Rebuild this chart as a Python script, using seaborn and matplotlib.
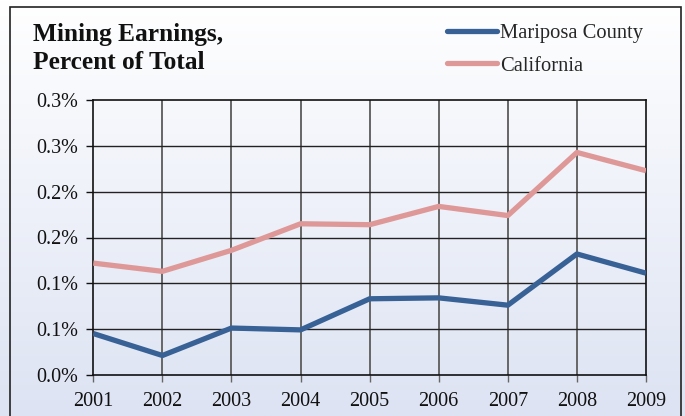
import numpy as np
import pandas as pd
import matplotlib
matplotlib.use("Agg")
import matplotlib.pyplot as plt
import seaborn as sns
from matplotlib.patches import Rectangle

years = [2001, 2002, 2003, 2004, 2005, 2006, 2007, 2008, 2009]
mariposa = [0.045, 0.021, 0.051, 0.049, 0.083, 0.084, 0.076, 0.132, 0.111]
california = [0.122, 0.113, 0.136, 0.165, 0.164, 0.184, 0.174, 0.243, 0.223]
series_names = ["Mariposa County", "California"]
series_colors = ["#386195", "#de9897"]
y_ticks = [0.0, 0.05, 0.10, 0.15, 0.20, 0.25, 0.30]
y_tick_labels = ["0.0%", "0.1%", "0.1%", "0.2%", "0.2%", "0.3%", "0.3%"]
title = "Mining Earnings,\nPercent of Total"

df = pd.DataFrame({
    "Year": years * 2,
    "Value": mariposa + california,
    "Series": [series_names[0]] * len(years) + [series_names[1]] * len(years),
})

sns.set_style("white")
plt.rcParams["font.family"] = ["Liberation Serif", "DejaVu Serif"]

W, H = 685, 416
fig = plt.figure(figsize=(W / 100, H / 100), dpi=100)

# gradient background
bg = fig.add_axes([0, 0, 1, 1], zorder=-10)
top_c = np.array([255, 255, 255]) / 255
bot_c = np.array([221, 227, 243]) / 255
t = np.linspace(0, 1, 256)[:, None]
grad = top_c[None, :] * (1 - t) + bot_c[None, :] * t
bg.imshow(grad[:, None, :].repeat(2, axis=1), aspect="auto", extent=[0, 1, 0, 1],
          transform=fig.transFigure)
bg.set_axis_off()
fig.patches.append(Rectangle((10 / W, -0.05), (681 - 10) / W, 1 - 7 / H + 0.05,
                             transform=fig.transFigure, fill=False,
                             edgecolor="#222222", linewidth=1.2, zorder=5))

ax = fig.add_axes([93.3 / W, 1 - 374.7 / H, (646 - 93.3) / W, (374.7 - 100.3) / H])
ax.set_facecolor("none")

sns.lineplot(data=df, x="Year", y="Value", hue="Series", palette=series_colors,
             hue_order=series_names, linewidth=3.8, ax=ax, legend=True,
             solid_capstyle="butt", zorder=3)

ax.set_xlim(2001, 2009)
ax.set_ylim(0, 0.30)
ax.set_xticks(years)
ax.set_xticklabels([str(y) for y in years])
ax.set_yticks(y_ticks)
ax.set_yticklabels(y_tick_labels)
ax.set_xlabel("")
ax.set_ylabel("")

ax.grid(False)
for x in years[1:-1]:
    ax.axvline(x, color="#666666", linewidth=1.4, zorder=1)
for y in y_ticks[1:-1]:
    ax.axhline(y, color="#222222", linewidth=1.0, zorder=1)

for s in ax.spines.values():
    s.set_color("#111111")
    s.set_linewidth(1.2)

ax.tick_params(axis="y", which="major", left=True, length=5, width=1.0,
               color="#111111", labelsize=14.5, pad=6, labelcolor="#111111")
ax.tick_params(axis="x", which="major", bottom=True, length=5, width=1.0,
               color="#666666", labelsize=14.5, pad=7.5, labelcolor="#111111")

fig.text(33 / W, 1 - 23 / H, title, ha="left", va="top", fontsize=18.3,
         fontweight="bold", color="#111111", linespacing=1.3)

leg = ax.get_legend()
handles = leg.legend_handles
leg.remove()
fig.legend(handles, series_names, loc="upper left",
           bbox_to_anchor=(447 / W, 1 - 24 / H), frameon=False, fontsize=14.8,
           handlelength=2.45, handletextpad=0.15, labelspacing=0.62,
           borderpad=0, borderaxespad=0)
for h in fig.legends[0].legend_handles:
    h.set_linewidth(3.8)
    h.set_solid_capstyle("round")

fig.savefig("out.png", dpi=100)
